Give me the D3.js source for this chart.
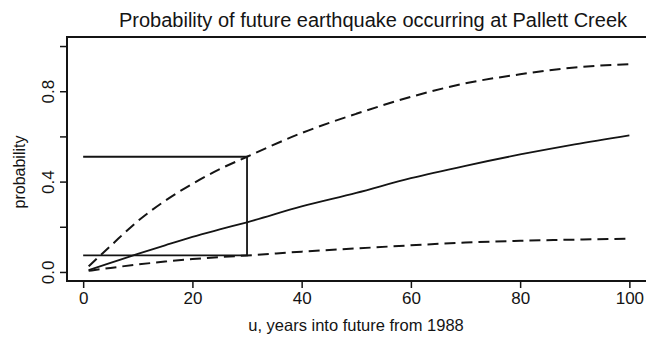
<!DOCTYPE html>
<html>
<head>
<meta charset="utf-8">
<script src="https://cdn.jsdelivr.net/npm/d3@7"></script>
<style>
  html, body { margin: 0; padding: 0; background: #fff; }
  svg { display: block; font-family: "Liberation Sans", Arial, Helvetica, sans-serif; }
</style>
</head>
<body>
<svg id="chart" width="646" height="337"></svg>
<script>
// Years into the future (from 1988)
const years = [1, 5, 10, 15, 20, 25, 30, 40, 50, 60, 70, 80, 90, 100];
// Estimated probability of the next earthquake within u years
const probEstimate = [0.008, 0.04, 0.08, 0.118, 0.155, 0.188, 0.22, 0.29, 0.35, 0.415, 0.47, 0.52, 0.565, 0.605];
// Upper and lower bounds
const probUpper = [0.025, 0.115, 0.225, 0.315, 0.39, 0.455, 0.51, 0.615, 0.70, 0.775, 0.835, 0.875, 0.905, 0.92];
const probLower = [0.005, 0.018, 0.033, 0.046, 0.057, 0.066, 0.073, 0.09, 0.104, 0.118, 0.13, 0.138, 0.143, 0.147];

const markYear = 30;
const markLow = 0.073;
const markHigh = 0.51;

const xTicks = [0, 20, 40, 60, 80, 100];
const yTicks = [0, 0.2, 0.4, 0.6, 0.8, 1.0];
const yTickLabels = ["0.0", "", "0.4", "", "0.8", ""];

const titleText = "Probability of future earthquake occurring at Pallett Creek";
const xLabel = "u, years into future from 1988";
const yLabel = "probability";

const svg = d3.select("#chart");
const ink = "#141414";
const font = "Liberation Sans, Arial, sans-serif";

// Plot region (x extends slightly past the window on the right)
const box = { left: 67, top: 37, right: 651, bottom: 281 };

const x = d3.scaleLinear().domain([-2.96, 103.96]).range([box.left, box.right]);
const y = d3.scaleLinear().domain([-0.04, 1.04]).range([box.bottom, box.top]);

// Frame
svg.append("rect")
  .attr("x", box.left).attr("y", box.top)
  .attr("width", box.right - box.left).attr("height", box.bottom - box.top)
  .attr("fill", "none").attr("stroke", ink).attr("stroke-width", 2);

// Axes
const xAxis = d3.axisBottom(x).tickValues(xTicks).tickSize(7).tickPadding(4)
  .tickFormat(d3.format("d"));
const gx = svg.append("g").attr("transform", `translate(0,${box.bottom})`).call(xAxis);
gx.select(".domain").remove();
gx.selectAll(".tick line").attr("stroke", ink).attr("stroke-width", 1.5);
gx.selectAll(".tick text").attr("fill", ink).attr("font-size", 17).attr("font-family", font);

const yAxis = d3.axisLeft(y).tickValues(yTicks).tickSize(7).tickPadding(5)
  .tickFormat((d, i) => yTickLabels[i]);
const gy = svg.append("g").attr("transform", `translate(${box.left},0)`).call(yAxis);
gy.select(".domain").remove();
gy.selectAll(".tick line").attr("stroke", ink).attr("stroke-width", 1.5);
gy.selectAll(".tick text")
  .attr("fill", ink).attr("font-size", 17).attr("font-family", font)
  .attr("text-anchor", "middle")
  .attr("dy", null)
  .attr("x", null)
  .attr("transform", "translate(-13,0) rotate(-90)");

// Curves
const line = d3.line().x((d, i) => x(years[i])).y(d => y(d)).curve(d3.curveMonotoneX);

svg.append("path").datum(probEstimate).attr("d", line)
  .attr("fill", "none").attr("stroke", ink).attr("stroke-width", 1.8);
svg.append("path").datum(probUpper).attr("d", line)
  .attr("fill", "none").attr("stroke", ink).attr("stroke-width", 2)
  .attr("stroke-dasharray", "11,6");
svg.append("path").datum(probLower).attr("d", line)
  .attr("fill", "none").attr("stroke", ink).attr("stroke-width", 2)
  .attr("stroke-dasharray", "11,6");

// Interval bracket at u = 30
const bracket = d3.path();
bracket.moveTo(x(0), y(markHigh));
bracket.lineTo(x(markYear), y(markHigh));
bracket.lineTo(x(markYear), y(markLow));
bracket.lineTo(x(0), y(markLow));
svg.append("path").attr("d", bracket.toString())
  .attr("fill", "none").attr("stroke", ink).attr("stroke-width", 1.8);

// Titles
svg.append("text").attr("x", 373).attr("y", 27)
  .attr("text-anchor", "middle").attr("font-size", 20).attr("fill", ink)
  .attr("font-family", font)
  .text(titleText);
svg.append("text").attr("x", 356).attr("y", 331)
  .attr("text-anchor", "middle").attr("font-size", 16.5).attr("fill", ink)
  .attr("font-family", font)
  .text(xLabel);
svg.append("text")
  .attr("transform", `translate(25,172) rotate(-90)`)
  .attr("text-anchor", "middle").attr("font-size", 16).attr("fill", ink)
  .attr("font-family", font)
  .text(yLabel);
</script>
</body>
</html>
